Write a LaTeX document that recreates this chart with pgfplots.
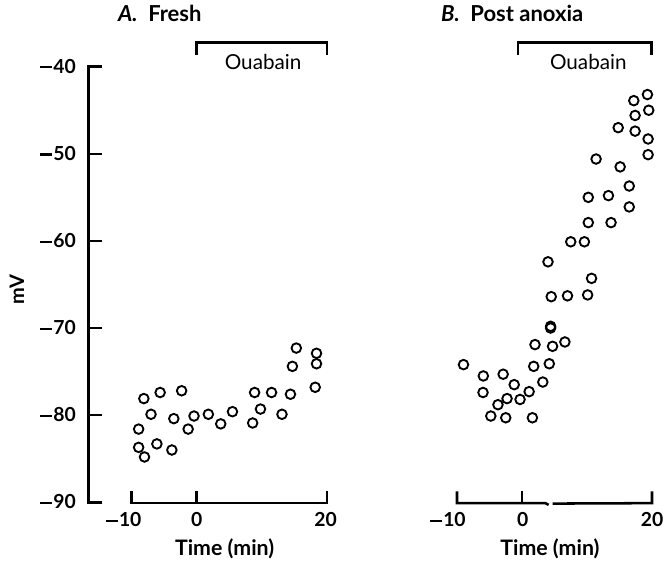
\documentclass[border=0pt]{standalone}
\usepackage{fontspec}
\setmainfont{Lato}
\usepackage{pgfplots}
\pgfplotsset{compat=1.18}
\newcommand\mn{\rule[0.25em]{0.62em}{0.11em}\kern0.06em}
\tikzset{lw/.style={line width=1.9pt, line cap=butt, line join=miter},
  tl/.style={anchor=base, inner sep=0pt, font=\fontsize{14.5}{14.5}\selectfont\bfseries},
  yl/.style={anchor=base east, inner sep=0pt, font=\fontsize{14.5}{14.5}\selectfont\bfseries}}
\begin{document}
\begin{tikzpicture}
\path[use as bounding box] (0,0) rectangle (498pt,421.5pt);
\pgfplotsset{panel/.style={scale only axis, height=326.7pt,
  xmin=-10, xmax=20, ymin=-90, ymax=-40, axis lines=none, clip=false,
  anchor=south west},
  pts/.style={only marks, mark=o, mark size=3.6pt,
  mark options={line width=1.4pt, draw=black, fill=white}}}
% ---------------- Panel A ----------------
\begin{axis}[panel, width=146.6pt, at={(98.6pt,44.8pt)}]
\addplot[pts] coordinates {
(-8.9,-83.7) (-8.0,-84.8) (-8.9,-81.6) (-8.1,-78.1) (-7.0,-79.9)
(-6.1,-83.3) (-5.6,-77.4) (-3.8,-84.0) (-3.5,-80.4) (-2.3,-77.2)
(-1.3,-81.6) (-0.4,-80.1) (1.8,-79.9) (3.7,-81.0) (5.5,-79.6)
(8.6,-80.9) (8.9,-77.4) (9.8,-79.3) (11.5,-77.4) (13.1,-79.9)
(14.4,-77.6) (14.7,-74.4) (15.3,-72.3) (18.2,-76.8) (18.4,-72.9)
(18.4,-74.1)};
% y axis
\draw[lw] (-14.45,-90) -- (-16.6,-90) -- (-16.6,-40) -- (-14.45,-40);
\draw[lw] (-16.6,-50) -- (-14.45,-50);
\draw[lw] (-16.6,-60) -- (-14.45,-60);
\draw[lw] (-16.6,-70) -- (-14.45,-70);
\draw[lw] (-16.6,-80) -- (-14.45,-80);
\node[yl] at (-18.5,-40.76) {\mn40};
\node[yl] at (-18.5,-50.76) {\mn50};
\node[yl] at (-18.5,-60.76) {\mn60};
\node[yl] at (-18.5,-70.76) {\mn70};
\node[yl] at (-18.5,-80.76) {\mn80};
\node[yl] at (-18.5,-90.76) {\mn90};
\node[rotate=90, inner sep=0pt, font=\fontsize{15}{15}\selectfont\bfseries] at (-27.6,-65.6) {mV};
% x bracket
\draw[lw] (-10,-88.75) -- (-10,-90.1) -- (20,-90.1) -- (20,-88.75);
\draw[lw] (0,-90.1) -- (0,-88.75);
\node[tl] at (-11.2,-92.8) {\mn10};
\node[tl] at (0,-92.8) {0};
\node[tl] at (19.8,-92.8) {20};
\node[anchor=base, inner sep=0pt, font=\fontsize{16}{16}\selectfont\bfseries] at (4.3,-96.06) {Time (min)};
% Ouabain bracket
\draw[lw] (0,-38.65) -- (0,-37.2) -- (20,-37.2) -- (20,-38.65);
\node[anchor=base, inner sep=0pt, font=\fontsize{15.5}{15.5}\selectfont] at (10.2,-40.3) {Ouabain};
\node[anchor=base west, inner sep=0pt, font=\fontsize{16.5}{16.5}\selectfont\bfseries] at (-12.1,-34.83) {\textit{A.}\ \ Fresh};
\end{axis}
% ---------------- Panel B ----------------
\begin{axis}[panel, width=146.25pt, at={(342.75pt,44.8pt)}]
\addplot[pts] coordinates {
(-9.0,-74.2) (-5.95,-75.5) (-2.9,-75.3) (-6.0,-77.4) (-1.2,-76.5)
(-3.7,-78.8) (-2.3,-78.1) (-0.3,-78.2) (1.1,-77.3) (-4.8,-80.1)
(-2.5,-80.3) (1.6,-80.3) (3.2,-76.2) (1.8,-74.4) (4.2,-74.1)
(2.0,-71.9) (4.7,-72.1) (6.6,-71.6) (4.4,-69.8) (4.4,-70.0)
(4.5,-66.4) (7.0,-66.3) (10.1,-66.2) (10.7,-64.3) (4.0,-62.4)
(7.5,-60.1) (9.6,-60.1) (10.2,-57.9) (13.7,-57.9) (16.5,-56.1)
(10.2,-55.0) (13.3,-54.8) (16.5,-53.7) (11.4,-50.6) (15.1,-51.5)
(19.4,-50.1) (19.4,-48.3) (14.8,-47.0) (17.4,-47.4) (17.2,-43.9)
(19.3,-43.2) (17.4,-45.6) (19.5,-45.0)};
% x bracket with gap
\draw[lw] (-10,-88.75) -- (-10,-90.1) -- (3.6,-90.1) -- (4.1,-90.3);
\draw[lw] (4.7,-90.15) -- (20,-90.1) -- (20,-88.75);
\draw[lw] (0,-90.1) -- (0,-88.75);
\node[tl] at (-11.4,-92.8) {\mn10};
\node[tl] at (0.1,-92.8) {0};
\node[tl] at (20,-92.8) {20};
\node[anchor=base, inner sep=0pt, font=\fontsize{16}{16}\selectfont\bfseries] at (4.3,-96.06) {Time (min)};
% Ouabain bracket
\draw[lw] (-0.6,-38.65) -- (-0.6,-37.2) -- (19.9,-37.2) -- (19.9,-38.65);
\node[anchor=base, inner sep=0pt, font=\fontsize{15.5}{15.5}\selectfont] at (10.2,-40.3) {Ouabain};
\node[anchor=base west, inner sep=0pt, font=\fontsize{16.5}{16.5}\selectfont\bfseries] at (-12.5,-34.83) {\textit{B.}\ \ Post anoxia};
\end{axis}
\end{tikzpicture}
\end{document}
